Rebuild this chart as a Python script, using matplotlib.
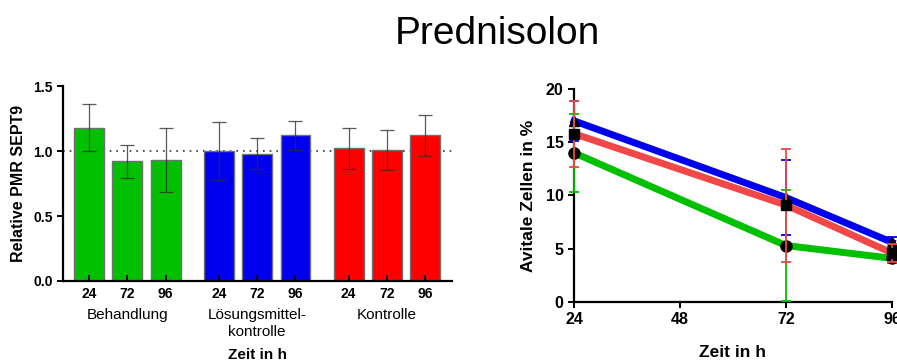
import matplotlib
matplotlib.use("Agg")
import matplotlib.pyplot as plt
import matplotlib.transforms as mtransforms
import numpy as np

plt.rcParams['font.family'] = ['Liberation Sans', 'DejaVu Sans']

# ---- data: left bar chart ----
groups = ["Behandlung", "Lösungsmittel-\nkontrolle", "Kontrolle"]
times_bar = ["24", "72", "96"]
bar_behandlung = [1.18, 0.92, 0.93]
err_behandlung = [0.18, 0.13, 0.245]
bar_loesung = [1.00, 0.98, 1.12]
err_loesung = [0.22, 0.12, 0.115]
bar_kontrolle = [1.02, 1.01, 1.12]
err_kontrolle = [0.16, 0.155, 0.155]

# ---- data: right line chart ----
times_line = [24, 72, 96]
line_blue = [17.0, 9.8, 5.6]
err_blue = [1.85, 3.55, 0.5]
line_red = [15.8, 9.1, 4.6]
err_red = [3.1, 5.3, 0.85]
line_green = [14.0, 5.3, 4.1]
err_green = [3.65, 5.2, 0.45]

C_GREEN = "#00c000"
C_BLUE = "#0000ee"
C_RED = "#ff0000"
C_RED_LINE = "#f04848"

fig = plt.figure(figsize=(8.97, 3.63), dpi=100)
fig.text(0.554, 0.905, "Prednisolon", ha="center", va="center", fontsize=28)

# ---------- left chart ----------
ax = fig.add_axes([0.0702, 0.2259, 0.4338, 0.537])
gap = 3.39
bw = 0.78
series = [(bar_behandlung, err_behandlung, C_GREEN),
          (bar_loesung, err_loesung, C_BLUE),
          (bar_kontrolle, err_kontrolle, C_RED)]
xpos_all = []
for gi, (vals, errs, col) in enumerate(series):
    xs = np.arange(3) + gi * gap
    xpos_all.extend(xs)
    ax.bar(xs, vals, width=bw, color=col, edgecolor="#707070", linewidth=1.0, zorder=2)
    ax.errorbar(xs, vals, yerr=errs, fmt="none", ecolor="#303030", alpha=0.8,
                elinewidth=0.9, capsize=5, capthick=0.9, zorder=3)
ax.axhline(1.0, color="#303030", linestyle=(0, (1, 3)), linewidth=1.2, zorder=1)
ax.set_xlim(-0.68, 9.48)
ax.set_ylim(0, 1.5)
ax.set_yticks([0.0, 0.5, 1.0, 1.5])
ax.set_yticklabels(["0.0", "0.5", "1.0", "1.5"], fontweight="bold", fontsize=10)
ax.set_xticks(xpos_all)
ax.set_xticklabels(times_bar * 3, fontweight="bold", fontsize=10)
for s in ["top", "right"]:
    ax.spines[s].set_visible(False)
for s in ["left", "bottom"]:
    ax.spines[s].set_linewidth(1.6)
ax.tick_params(axis="y", width=1.4, length=4, direction="out")
ax.tick_params(axis="x", width=1.4, length=4, direction="in", pad=4)
ax.set_axisbelow(False)
ax.set_ylabel("Relative PMR SEPT9", fontweight="bold", fontsize=11.5, labelpad=5)
trans = mtransforms.blended_transform_factory(ax.transData, fig.transFigure)
for gi, g in enumerate(groups):
    ax.text(1 + gi * gap, 0.152, g, transform=trans,
            ha="center", va="top", fontsize=11, linespacing=1.3)
fig.text(0.2871, 0.022, "Zeit in h", ha="center", va="center", fontweight="bold", fontsize=11)

# ---------- right chart ----------
ax2 = fig.add_axes([0.640, 0.168, 0.3544, 0.587])
ax2.errorbar(times_line, line_green, yerr=err_green, color=C_GREEN, linewidth=5,
             ecolor=C_GREEN, elinewidth=1.3, capsize=3.5, capthick=1.3,
             marker="o", markersize=8, mfc="black", mec="black", zorder=3, clip_on=False)
ax2.errorbar(times_line, line_red, yerr=err_red, color=C_RED_LINE, linewidth=5,
             ecolor=C_RED_LINE, elinewidth=1.3, capsize=3.5, capthick=1.3,
             marker="s", markersize=7, mfc="black", mec="black", zorder=4, clip_on=False)
ax2.errorbar(times_line, line_blue, yerr=err_blue, color=C_BLUE, linewidth=5,
             ecolor=C_BLUE, elinewidth=1.3, capsize=3.5, capthick=1.3,
             marker="^", markersize=7, mfc="black", mec="black", zorder=2, clip_on=False)
ax2.set_xlim(24, 96)
ax2.set_ylim(0, 20)
ax2.set_xticks([24, 48, 72, 96])
ax2.set_xticklabels(["24", "48", "72", "96"], fontweight="bold", fontsize=11.5)
ax2.set_yticks([0, 5, 10, 15, 20])
ax2.set_yticklabels(["0", "5", "10", "15", "20"], fontweight="bold", fontsize=11.5)
for s in ["top", "right"]:
    ax2.spines[s].set_visible(False)
for s in ["left", "bottom"]:
    ax2.spines[s].set_linewidth(1.6)
ax2.tick_params(axis="both", width=1.4, length=4, direction="out")
ax2.set_ylabel("Avitale Zellen in %", fontweight="bold", fontsize=12.5, labelpad=7)
fig.text(0.817, 0.030, "Zeit in h", ha="center", va="center", fontweight="bold", fontsize=12.5)

fig.savefig("out.png", dpi=100)
